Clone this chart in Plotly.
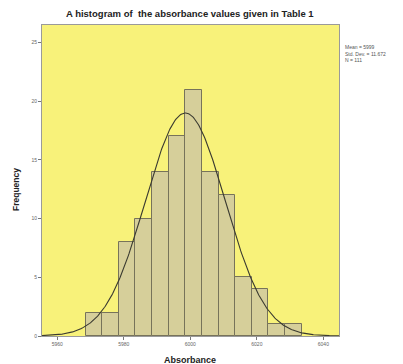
import numpy as np
import plotly.graph_objects as go

# Data
bin_start = 5968.5
bin_width = 5.0
counts = [2, 2, 8, 10, 14, 17, 21, 14, 12, 5, 4, 1, 1]
mean_val = 5998.5
sd_val = 12.0
curve_peak = 19.0
n_total = 111
x_ticks = [5960, 5980, 6000, 6020, 6040]
y_ticks = [0, 5, 10, 15, 20, 25]

centers = [bin_start + bin_width * (i + 0.5) for i in range(len(counts))]

# fitted normal curve (as drawn by the statistics package)
xc = np.linspace(5955.4, 6044.7, 400)
yc = curve_peak * np.exp(-0.5 * ((xc - mean_val) / sd_val) ** 2)

fig = go.Figure()
fig.add_trace(go.Bar(
    x=centers, y=counts, width=bin_width,
    marker=dict(color="#d6cf9a", line=dict(color="#77735a", width=1)),
    hoverinfo="skip",
))
fig.add_trace(go.Scatter(
    x=xc, y=yc, mode="lines",
    line=dict(color="#3a3a30", width=1.1),
    hoverinfo="skip",
))

fig.update_layout(
    width=403, height=364,
    margin=dict(l=42, r=64, t=25, b=28),
    paper_bgcolor="white",
    plot_bgcolor="#f8f27a",
    showlegend=False,
    bargap=0,
    font=dict(family="Liberation Sans, Arial, sans-serif", color="#555555", size=5),
    xaxis=dict(
        range=[5955.4, 6044.7], tickvals=x_ticks, ticktext=[str(v) for v in x_ticks],
        showgrid=False, zeroline=False, ticks="outside", ticklen=3, tickcolor="#777777",
        showline=True, linecolor="#9a9a9a", linewidth=1, mirror=True,
        tickfont=dict(size=5, color="#666666"),
    ),
    yaxis=dict(
        range=[0, 26.5], tickvals=y_ticks, ticktext=[str(v) for v in y_ticks],
        showgrid=False, zeroline=False, ticks="outside", ticklen=3, tickcolor="#777777",
        showline=True, linecolor="#9a9a9a", linewidth=1, mirror=True,
        tickfont=dict(size=5, color="#666666"),
    ),
)

fig.add_annotation(
    text="<b>A histogram of  the absorbance values given in Table 1</b>",
    xref="paper", yref="paper", x=(190 - 42) / 297, y=1 + (25 - 14) / 311,
    showarrow=False, xanchor="center", yanchor="middle",
    font=dict(size=9.5, color="#222222"),
)
fig.add_annotation(
    text="<b>Frequency</b>", textangle=-90,
    xref="paper", yref="paper", x=(16 - 42) / 297, y=(336 - 190) / 311,
    showarrow=False, xanchor="center", yanchor="middle",
    font=dict(size=8.5, color="#222222"),
)
fig.add_annotation(
    text="<b>Absorbance</b>",
    xref="paper", yref="paper", x=(190 - 42) / 297, y=-(360 - 336) / 311,
    showarrow=False, xanchor="center", yanchor="middle",
    font=dict(size=9, color="#222222"),
)
fig.add_annotation(
    text="Mean = 5999<br>Std. Dev. = 11.672<br>N = 111",
    xref="paper", yref="paper", x=(343 - 42) / 297, y=(336 - 42) / 311,
    showarrow=False, xanchor="left", yanchor="top", align="left",
    font=dict(size=5, color="#555555"),
)

fig.write_html("out.html")
